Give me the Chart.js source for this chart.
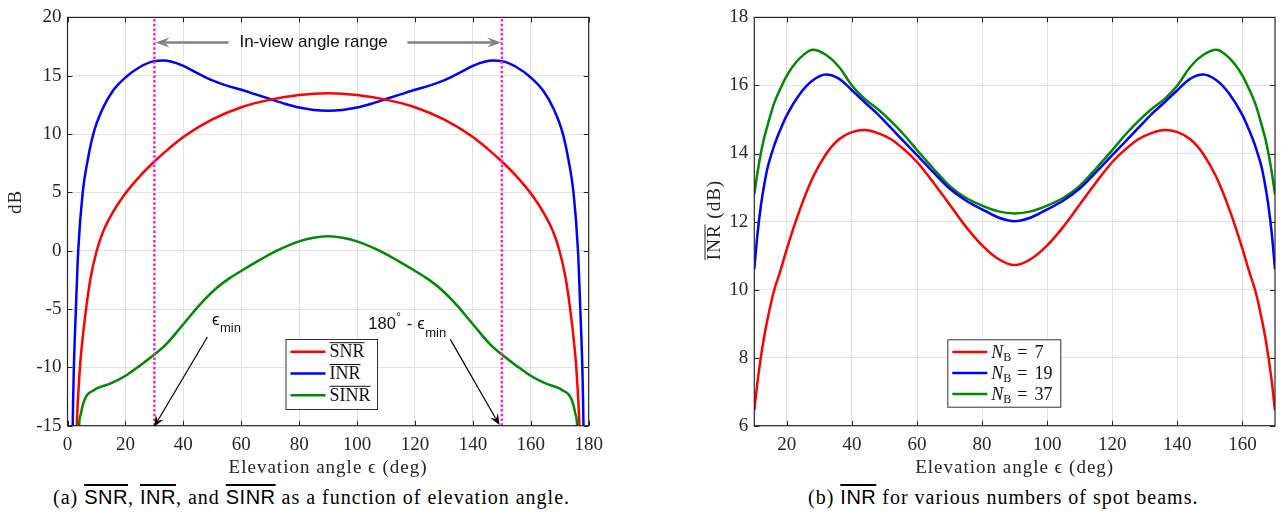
<!DOCTYPE html>
<html>
<head>
<meta charset="utf-8">
<script src="https://cdn.jsdelivr.net/npm/chart.js@4.4.1/dist/chart.umd.min.js"></script>
<style>
  body { margin: 0; background: #fff; width: 1284px; height: 529px; overflow: hidden; position: relative; }
  .panel { position: absolute; top: 0; width: 642px; height: 482px; }
  #panelA { left: 0; }
  #panelB { left: 642px; }
  .cap { position: absolute; top: 486px; font-family: 'Liberation Serif', serif; font-size: 20px; letter-spacing: 1px; color: #000; white-space: nowrap; }
  .ov { font-family: 'Liberation Sans', sans-serif; text-decoration: overline; letter-spacing: 0.5px; }
</style>
</head>
<body>
<div class="panel" id="panelA"><canvas id="chartA" width="642" height="482"></canvas></div>
<div class="panel" id="panelB"><canvas id="chartB" width="642" height="482"></canvas></div>
<div class="cap" style="left:53px">(a) <span class="ov">SNR</span>, <span class="ov">INR</span>, and <span class="ov">SINR</span> as a function of elevation angle.</div>
<div class="cap" style="left:808px">(b) <span class="ov">INR</span> for various numbers of spot beams.</div>
<script>
// ---- panel (a): SNR / INR / SINR vs elevation ----
const ticksAX = [0, 20, 40, 60, 80, 100, 120, 140, 160, 180];
const ticksAY = [-15, -10, -5, 0, 5, 10, 15, 20];
const seriesA = ['SNR', 'INR', 'SINR'];

const snrAngles = [2.5, 3.2, 4.3, 5, 6.4, 8, 10.1, 12, 15, 19.5, 25, 30, 35, 40.6, 50, 60, 70, 80, 90,
  100, 110, 120, 130, 139.4, 145, 150, 155, 160.5, 165, 168, 169.9, 172, 173.6, 175, 175.7, 176.8, 177.5];
const snrDb = [-22, -15, -10, -8, -5, -2.3, 0, 1.45, 3.0, 4.75, 6.4, 7.65, 8.75, 9.85, 11.25, 12.3, 12.95, 13.35, 13.5,
  13.35, 12.95, 12.3, 11.25, 9.85, 8.75, 7.65, 6.4, 4.75, 3.0, 1.45, 0, -2.3, -5, -8, -10, -15, -22];

const inrAngles = [1.4, 1.8, 2.2, 2.9, 3.7, 5.25, 7, 8.9, 12, 15.8, 20, 25, 30, 33, 36, 40, 45, 50, 55, 60, 65, 70, 75, 80, 85, 90,
  95, 100, 105, 110, 115, 120, 125, 130, 135, 140, 144, 147, 150, 155, 160, 164.2, 168, 171.1, 173, 174.75, 176.3, 177.1, 177.8, 178.2, 178.6];
const inrDb = [-25, -15, -10, -5, 0, 5, 7.8, 10, 12.1, 13.75, 14.85, 15.75, 16.25, 16.3, 16.2, 15.85, 15.2, 14.6, 14.15, 13.8, 13.4, 13.0, 12.6, 12.27, 12.07, 12.0,
  12.07, 12.27, 12.6, 13.0, 13.4, 13.8, 14.15, 14.6, 15.2, 15.85, 16.2, 16.3, 16.25, 15.75, 14.85, 13.75, 12.1, 10, 7.8, 5, 0, -5, -10, -15, -25];

const sinrAngles = [3.6, 4, 4.6, 5.3, 6.2, 7.2, 8.5, 10.1, 14.7, 20.2, 25, 30, 34.2, 40, 45.8, 51.5, 56, 60.2, 66, 72.3, 80, 85, 90,
  95, 100, 107.7, 114, 119.8, 124, 128.5, 134.2, 140, 145.8, 150, 155, 159.8, 165.3, 169.9, 171.5, 172.8, 173.8, 174.7, 175.4, 176, 176.4];
const sinrDb = [-19, -15, -14, -13.2, -12.6, -12.25, -12.05, -11.8, -11.4, -10.7, -9.85, -8.9, -7.98, -6.3, -4.6, -3.2, -2.35, -1.7, -0.85, 0, 0.8, 1.12, 1.25,
  1.12, 0.8, 0, -0.85, -1.7, -2.35, -3.2, -4.6, -6.3, -7.98, -8.9, -9.85, -10.7, -11.4, -11.8, -12.05, -12.25, -12.6, -13.2, -14, -15, -19];

const inViewEdges = [30, 150];

// ---- panel (b): INR for several beam counts ----
const ticksBX = [20, 40, 60, 80, 100, 120, 140, 160];
const ticksBY = [6, 8, 10, 12, 14, 16, 18];
const beamCounts = ['7', '19', '37'];
const anglesB = [10, 11, 12, 13, 14, 16, 18, 20, 24, 28, 32, 36, 40, 44, 48, 52, 56, 60, 65, 70, 75, 80, 85, 90,
  95, 100, 105, 110, 115, 120, 124, 128, 132, 136, 140, 144, 148, 152, 156, 160, 162, 164, 166, 167, 168, 169, 170];
const inrNb7 = [6.45, 7.3, 8.0, 8.6, 9.1, 9.95, 10.55, 11.2, 12.35, 13.3, 13.98, 14.42, 14.63, 14.69, 14.6, 14.42, 14.12, 13.75, 13.15, 12.5, 11.85, 11.3, 10.9, 10.72,
  10.9, 11.3, 11.85, 12.5, 13.15, 13.75, 14.12, 14.42, 14.6, 14.69, 14.63, 14.42, 13.98, 13.3, 12.35, 11.2, 10.55, 9.95, 9.1, 8.6, 8.0, 7.3, 6.45];
const inrNb19 = [10.6, 11.65, 12.45, 13.05, 13.55, 14.2, 14.7, 15.13, 15.75, 16.15, 16.32, 16.2, 15.86, 15.5, 15.15, 14.75, 14.35, 13.95, 13.45, 12.97, 12.62, 12.36, 12.12, 12.01,
  12.12, 12.36, 12.62, 12.97, 13.45, 13.95, 14.35, 14.75, 15.15, 15.5, 15.86, 16.2, 16.32, 16.15, 15.75, 15.13, 14.7, 14.2, 13.55, 13.05, 12.45, 11.65, 10.6];
const inrNb37 = [12.8, 13.45, 14.0, 14.45, 14.8, 15.45, 15.9, 16.29, 16.8, 17.05, 16.9, 16.55, 16.0, 15.6, 15.3, 14.95, 14.55, 14.1, 13.56, 13.05, 12.7, 12.47, 12.3, 12.24,
  12.3, 12.47, 12.7, 13.05, 13.56, 14.1, 14.55, 14.95, 15.3, 15.6, 16.0, 16.55, 16.9, 17.05, 16.8, 16.29, 15.9, 15.45, 14.8, 14.45, 14.0, 13.45, 12.8];

const RED = '#ff0000', BLUE = '#0000ff', GREEN = '#008a00', PINK = '#ff1ec8';
const AXIS = '#262626';
const SERIF = "'Liberation Serif', serif";
const SANS = "'Liberation Sans', sans-serif";

const pts = (xs, ys) => xs.map((x, i) => ({ x: x, y: ys[i] }));

function curve(data, color, label) {
  return { label: label, data: data, borderColor: color, borderWidth: 2.5, pointRadius: 0, fill: false,
    cubicInterpolationMode: 'monotone', clip: 0, order: 1 };
}

function overText(ctx, txt, x, y, font) {
  ctx.font = font;
  ctx.fillText(txt, x, y);
  const w = ctx.measureText(txt).width;
  ctx.save();
  ctx.lineWidth = 1;
  ctx.strokeStyle = ctx.fillStyle;
  ctx.beginPath();
  ctx.moveTo(x, y - 14.5); ctx.lineTo(x + w, y - 14.5);
  ctx.stroke();
  ctx.restore();
  return w;
}

function arrow(ctx, x0, y0, x1, y1, color, lw, len, half) {
  const a = Math.atan2(y1 - y0, x1 - x0);
  ctx.save();
  ctx.strokeStyle = color; ctx.fillStyle = color; ctx.lineWidth = lw;
  ctx.beginPath();
  ctx.moveTo(x0, y0);
  ctx.lineTo(x1 - Math.cos(a) * len * 0.7, y1 - Math.sin(a) * len * 0.7);
  ctx.stroke();
  ctx.translate(x1, y1); ctx.rotate(a);
  ctx.beginPath();
  ctx.moveTo(0, 0); ctx.lineTo(-len, -half); ctx.lineTo(-len * 0.65, 0); ctx.lineTo(-len, half);
  ctx.closePath(); ctx.fill();
  ctx.restore();
}

// legend label styles
function labelOver(ctx, t, x, y) { overText(ctx, t, x, y, '18px ' + SERIF); }
function labelNb(ctx, t, x, y) {
  ctx.font = 'italic 18px ' + SERIF; ctx.fillText('N', x, y);
  x += ctx.measureText('N').width;
  ctx.font = '12px ' + SERIF; ctx.fillText('B', x, y + 3.5);
  x += ctx.measureText('B').width + 6;
  ctx.font = '18px ' + SERIF; ctx.fillText('=', x, y);
  x += ctx.measureText('=').width + 7;
  ctx.fillText(t, x, y);
}
function titleDb(ctx) {
  ctx.font = '19px ' + SERIF;
  ctx.fillText('dB', 0, 0);
}
function titleInr(ctx) {
  ctx.font = '19px ' + SERIF;
  const w1 = ctx.measureText('INR').width, w2 = ctx.measureText(' (dB)').width;
  ctx.textAlign = 'left'; ctx.textBaseline = 'alphabetic';
  const x0 = -(w1 + w2) / 2;
  overText(ctx, 'INR', x0, 6.5, '19px ' + SERIF);
  ctx.fillText(' (dB)', x0 + w1, 6.5);
}

// per-chart decoration layout (kept out of the Chart.js options resolver)
const decoLayout = {
  chartA: { annotate: true, legend: { x: 285.5, y: 339, w: 91.5, h: 70, row0: 12.7, step: 21.8 },
    label: labelOver, yTitle: { x: 16, y: 202 }, title: titleDb },
  chartB: { annotate: false, legend: { x: 305.3, y: 339.3, w: 113, h: 67.4, row0: 12.7, step: 21 },
    label: labelNb, yTitle: { x: 71, y: 220 }, title: titleInr }
};

// MATLAB-ish box with inward ticks on all four sides
const boxPlugin = {
  id: 'boxTicks',
  afterDatasetsDraw(chart) {
    const { ctx, chartArea: a, scales: { x, y } } = chart;
    ctx.save();
    ctx.strokeStyle = AXIS; ctx.lineWidth = 1;
    ctx.beginPath();
    x.ticks.forEach(t => {
      const px = Math.round(x.getPixelForValue(t.value)) + 0.5;
      ctx.moveTo(px, a.bottom); ctx.lineTo(px, a.bottom - 5);
      ctx.moveTo(px, a.top); ctx.lineTo(px, a.top + 5);
    });
    y.ticks.forEach(t => {
      const py = Math.round(y.getPixelForValue(t.value)) + 0.5;
      ctx.moveTo(a.left, py); ctx.lineTo(a.left + 5, py);
      ctx.moveTo(a.right, py); ctx.lineTo(a.right - 5, py);
    });
    ctx.stroke();
    ctx.lineWidth = 1.2;
    ctx.strokeRect(a.left, a.top, a.right - a.left, a.bottom - a.top);
    ctx.restore();
  }
};

// annotations, legend and axis titles
const decoPlugin = {
  id: 'deco',
  afterDraw(chart) {
    const o = decoLayout[chart.canvas.id];
    const { ctx, chartArea: a, scales: { x, y } } = chart;
    ctx.save();
    if (o.annotate) {
      const yy = y.getPixelForValue(17.85);
      arrow(ctx, x.getPixelForValue(55.6), yy, x.getPixelForValue(30.4), yy, '#808080', 2.5, 14, 5);
      arrow(ctx, x.getPixelForValue(117.4), yy, x.getPixelForValue(149.8), yy, '#808080', 2.5, 14, 5);
      ctx.fillStyle = '#111';
      ctx.font = '17px ' + SANS;
      ctx.textAlign = 'center'; ctx.textBaseline = 'middle';
      ctx.fillText('In-view angle range', x.getPixelForValue(85), yy);
      arrow(ctx, x.getPixelForValue(48.3), y.getPixelForValue(-7.4), x.getPixelForValue(29.9), y.getPixelForValue(-15.1), '#000', 1.2, 11, 4.5);
      arrow(ctx, x.getPixelForValue(132.2), y.getPixelForValue(-7.6), x.getPixelForValue(149.2), y.getPixelForValue(-14.95), '#000', 1.2, 11, 4.5);
      ctx.textAlign = 'left'; ctx.textBaseline = 'alphabetic';
      // epsilon_min
      let px = x.getPixelForValue(49.9), py = y.getPixelForValue(-6.33);
      ctx.font = '17px ' + SANS; ctx.fillText('ϵ', px, py);
      px += ctx.measureText('ϵ').width + 0.5;
      ctx.font = '13px ' + SANS; ctx.fillText('min', px, py + 7.5);
      // 180° - epsilon_min
      px = x.getPixelForValue(103.9); py = y.getPixelForValue(-6.7);
      ctx.font = '16.5px ' + SANS; ctx.fillText('180', px, py);
      px += ctx.measureText('180').width + 0.5;
      ctx.font = '11px ' + SANS; ctx.fillText('°', px, py - 9);
      px += ctx.measureText('°').width + 6;
      ctx.font = '16.5px ' + SANS; ctx.fillText('-', px, py);
      px += ctx.measureText('-').width + 5;
      ctx.font = '17px ' + SANS; ctx.fillText('ϵ', px, py);
      px += ctx.measureText('ϵ').width + 0.5;
      ctx.font = '13px ' + SANS; ctx.fillText('min', px, py + 8);
    }
    // legend
    const L = o.legend;
    ctx.fillStyle = '#fff';
    ctx.fillRect(L.x, L.y, L.w, L.h);
    ctx.strokeStyle = '#333'; ctx.lineWidth = 1;
    ctx.strokeRect(L.x + 0.5, L.y + 0.5, L.w, L.h);
    ctx.textAlign = 'left'; ctx.textBaseline = 'alphabetic';
    chart.data.datasets.filter(d => d.label).forEach((d, i) => {
      const ry = L.y + L.row0 + i * L.step;
      ctx.strokeStyle = d.borderColor; ctx.lineWidth = 2.5;
      ctx.beginPath(); ctx.moveTo(L.x + 5, ry); ctx.lineTo(L.x + 40, ry); ctx.stroke();
      ctx.fillStyle = '#111';
      o.label(ctx, d.label, L.x + 44, ry + 5.5);
    });
    // axis titles
    ctx.fillStyle = AXIS;
    ctx.letterSpacing = '1px';
    ctx.font = '19px ' + SERIF;
    ctx.textAlign = 'center'; ctx.textBaseline = 'middle';
    ctx.fillText('Elevation angle ϵ (deg)', (a.left + a.right) / 2, 468);
    ctx.translate(o.yTitle.x, o.yTitle.y);
    ctx.rotate(-Math.PI / 2);
    o.title(ctx);
    ctx.restore();
  }
};

function axes(xmin, xmax, xticks, ymin, ymax, yticks, leftW) {
  const grid = { color: '#e2e2e2', lineWidth: 1, drawTicks: false };
  const font = { family: SERIF, size: 19 };
  return {
    x: { type: 'linear', min: xmin, max: xmax, grid: grid, border: { display: false },
      afterBuildTicks: s => { s.ticks = xticks.map(v => ({ value: v })); },
      afterFit: s => { s.height = 56.3; },
      ticks: { font: font, color: AXIS, padding: 8, maxRotation: 0, autoSkip: false } },
    y: { type: 'linear', min: ymin, max: ymax, grid: grid, border: { display: false },
      afterBuildTicks: s => { s.ticks = yticks.map(v => ({ value: v })); },
      afterFit: s => { s.width = leftW; },
      ticks: { font: font, color: AXIS, padding: 6, autoSkip: false } }
  };
}

const pinkA = inViewEdges.map(e => ({ data: [{ x: e, y: -15 }, { x: e, y: 20 }], borderColor: PINK, borderWidth: 2.5,
  borderDash: [2.5, 2.2], pointRadius: 0, clip: 0, order: 0 }));

new Chart(document.getElementById('chartA'), {
  type: 'line',
  data: { datasets: [
    curve(pts(snrAngles, snrDb), RED, seriesA[0]),
    curve(pts(inrAngles, inrDb), BLUE, seriesA[1]),
    curve(pts(sinrAngles, sinrDb), GREEN, seriesA[2])
  ].concat(pinkA) },
  options: {
    responsive: false, animation: false, devicePixelRatio: 1,
    layout: { padding: { left: 0, top: 15, right: 53.3, bottom: 0 } },
    scales: axes(0, 180, ticksAX, -15, 20, ticksAY, 67.5),
    plugins: { legend: { display: false }, tooltip: { enabled: false } }
  },
  plugins: [boxPlugin, decoPlugin]
});

new Chart(document.getElementById('chartB'), {
  type: 'line',
  data: { datasets: [
    curve(pts(anglesB, inrNb7), RED, beamCounts[0]),
    curve(pts(anglesB, inrNb19), BLUE, beamCounts[1]),
    curve(pts(anglesB, inrNb37), GREEN, beamCounts[2])
  ] },
  options: {
    responsive: false, animation: false, devicePixelRatio: 1,
    layout: { padding: { left: 0, top: 15, right: 9, bottom: 0 } },
    scales: axes(10, 170, ticksBX, 6, 18, ticksBY, 112.3),
    plugins: { legend: { display: false }, tooltip: { enabled: false } }
  },
  plugins: [boxPlugin, decoPlugin]
});
</script>
</body>
</html>
